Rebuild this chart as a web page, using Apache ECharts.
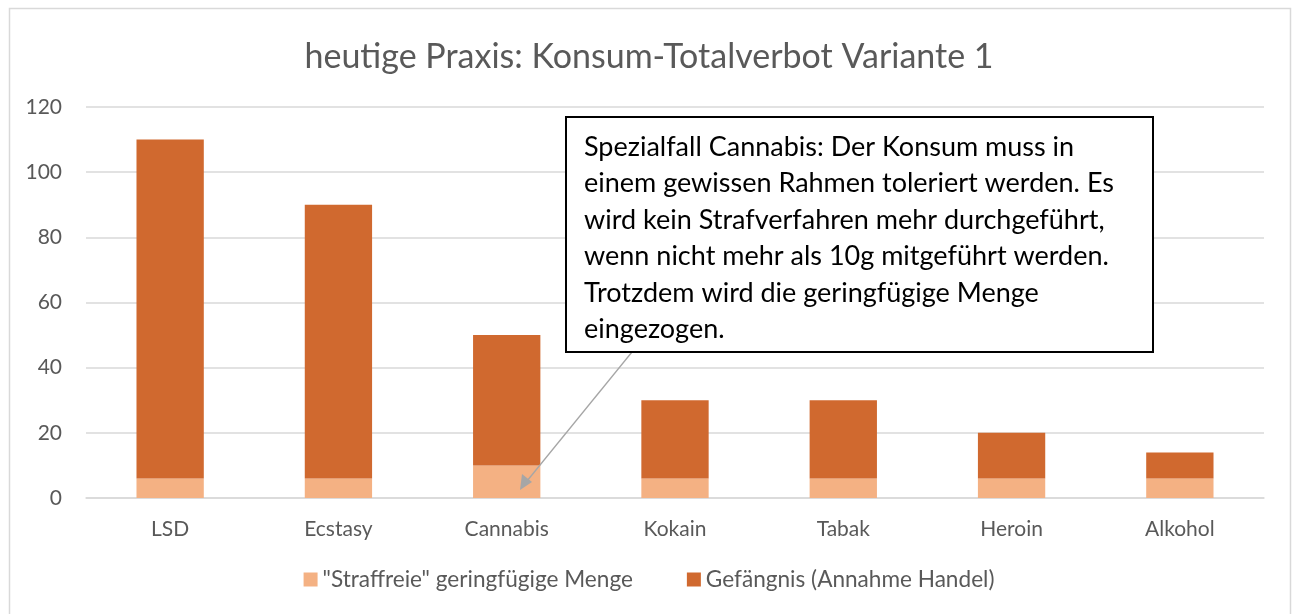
<!DOCTYPE html>
<html><head><meta charset="utf-8">
<script src="https://cdn.jsdelivr.net/npm/echarts@6/dist/echarts.min.js"></script>
<style>html,body{margin:0;padding:0;background:#fff}#c{width:1298px;height:614px}</style>
</head><body><div id="c"></div>
<script>
const categories = ['LSD','Ecstasy','Cannabis','Kokain','Tabak','Heroin','Alkohol'];
const straffrei = [6,6,10,6,6,6,6];
const gefaengnis = [104,84,40,24,24,14,8];
const yTicks = [0,20,40,60,80,100,120];
const seriesNames = ['"Straffreie" geringfügige Menge','Gefängnis (Annahme Handel)'];
const titleText = 'heutige Praxis: Konsum-Totalverbot Variante 1';
const noteText = 'Spezialfall Cannabis: Der Konsum muss in\neinem gewissen Rahmen toleriert werden. Es\nwird kein Strafverfahren mehr durchgeführt,\nwenn nicht mehr als 10g mitgeführt werden.\nTrotzdem wird die geringfügige Menge\neingezogen.';

const FONT = 'Lato';
const chart = echarts.init(document.getElementById('c'));
chart.setOption({
  animation:false,
  textStyle:{fontFamily:FONT},
  title:{text:titleText,left:'center',top:35,textStyle:{fontFamily:FONT,fontSize:34,fontWeight:'normal',color:'#595959'}},
  grid:{left:86,right:34,top:107,bottom:116},
  legend:{bottom:18,left:'center',itemWidth:14,itemHeight:14,itemGap:54,icon:'rect',
    textStyle:{fontFamily:FONT,fontSize:22.6,color:'#595959'}},
  xAxis:{type:'category',data:categories,
    axisLine:{lineStyle:{color:'#d9d9d9',width:1.5}},axisTick:{show:false},
    axisLabel:{fontFamily:FONT,fontSize:21,color:'#595959',margin:21}},
  yAxis:{type:'value',min:0,max:120,interval:20,
    axisLine:{show:false},axisTick:{show:false},
    splitLine:{lineStyle:{color:'#d9d9d9',width:1.5}},
    axisLabel:{fontFamily:FONT,fontSize:21,color:'#595959',margin:24,
      formatter:v=>yTicks.includes(v)?String(v):''}},
  series:[
    {name:seriesNames[0],type:'bar',stack:'a',data:straffrei,barWidth:'40%',itemStyle:{color:'#F4B183'}},
    {name:seriesNames[1],type:'bar',stack:'a',data:gefaengnis,barWidth:'40%',itemStyle:{color:'#D0692F'}}
  ],
  graphic:[
    {type:'rect',shape:{x:9.5,y:8.5,width:1281,height:620},style:{fill:null,stroke:'#d9d9d9',lineWidth:1.5},silent:true,z:-1},
    {type:'line',shape:{x1:632,y1:352,x2:527,y2:481},style:{stroke:'#a6a6a6',lineWidth:1.3},z:10},
    {type:'polygon',shape:{points:[[520,490],[522,474],[532,482]]},style:{fill:'#a6a6a6'},z:10},
    {type:'rect',shape:{x:566,y:117,width:587,height:235},style:{fill:'#fff',stroke:'#000',lineWidth:2},z:20},
    {type:'text',x:584,y:129,style:{text:noteText,fontFamily:FONT,fontSize:27,lineHeight:36.5,fill:'#000'},z:21}
  ]
});
</script></body></html>
